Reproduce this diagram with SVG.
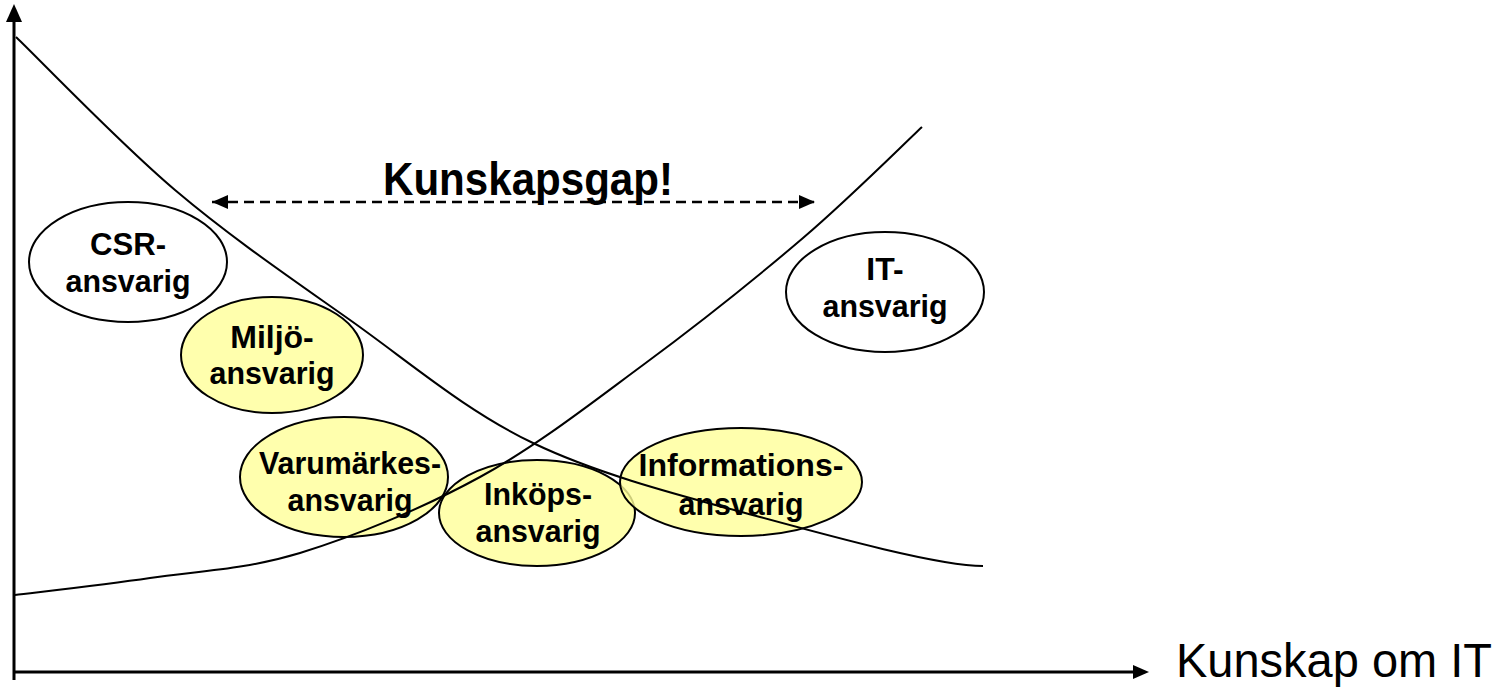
<svg xmlns="http://www.w3.org/2000/svg" width="1508" height="690" viewBox="0 0 1508 690">
<defs>
<style>
.lbl{font-family:"Liberation Sans",Arial,sans-serif;font-weight:bold;font-size:32px;text-anchor:middle;fill:#000}
.w{fill:#fff;stroke:#000;stroke-width:2}
.y{fill:#FFFF99;fill-opacity:0.8;stroke:#000;stroke-width:2}
.curve{fill:none;stroke:#000;stroke-width:2}
</style>
<marker id="ah" viewBox="0 0 16 14" refX="16" refY="7" markerWidth="16" markerHeight="14" markerUnits="userSpaceOnUse" orient="auto-start-reverse">
<path d="M0,0 L16,7 L0,14 Z" fill="#000"/>
</marker>
</defs>
<rect width="1508" height="690" fill="#fff"/>
<g id="axes">
<line x1="14" y1="680" x2="14" y2="20" stroke="#000" stroke-width="3"/>
<path d="M14,4 L22,22 L6,22 Z" fill="#000"/>
<line x1="13" y1="672" x2="1134" y2="672" stroke="#000" stroke-width="3"/>
<path d="M1149,672 L1133,665 L1133,679 Z" fill="#000"/>
<text x="1176" y="677" font-family="'Liberation Sans',Arial,sans-serif" font-size="48" textLength="316" lengthAdjust="spacingAndGlyphs">Kunskap om IT</text>
</g>
<g id="node-csr"><ellipse class="w" cx="128" cy="262" rx="99" ry="60"/><text class="lbl" x="128" y="255" textLength="76" lengthAdjust="spacingAndGlyphs">CSR-</text><text class="lbl" x="128" y="292" textLength="125" lengthAdjust="spacingAndGlyphs">ansvarig</text></g>
<g id="node-it"><ellipse class="w" cx="885" cy="292" rx="99" ry="60"/><text class="lbl" x="885" y="280">IT-</text><text class="lbl" x="885" y="317" textLength="125" lengthAdjust="spacingAndGlyphs">ansvarig</text></g>
<g id="node-miljo"><ellipse class="y" cx="272" cy="355" rx="91" ry="58"/><text class="lbl" x="272" y="348">Miljö-</text><text class="lbl" x="272" y="384" textLength="125" lengthAdjust="spacingAndGlyphs">ansvarig</text></g>
<g id="node-varumarkes"><ellipse class="y" cx="344" cy="477" rx="104" ry="60"/><text class="lbl" x="350" y="474" textLength="182" lengthAdjust="spacingAndGlyphs">Varumärkes-</text><text class="lbl" x="350" y="511" textLength="125" lengthAdjust="spacingAndGlyphs">ansvarig</text></g>
<g id="node-inkops"><ellipse class="y" cx="537" cy="513" rx="98" ry="53"/><text class="lbl" x="538" y="505" textLength="108" lengthAdjust="spacingAndGlyphs">Inköps-</text><text class="lbl" x="538" y="542" textLength="125" lengthAdjust="spacingAndGlyphs">ansvarig</text></g>
<g id="node-informations"><ellipse class="y" cx="741" cy="482" rx="121" ry="54"/><text class="lbl" x="741" y="476" textLength="205" lengthAdjust="spacingAndGlyphs">Informations-</text><text class="lbl" x="741" y="515" textLength="125" lengthAdjust="spacingAndGlyphs">ansvarig</text></g>
<g id="connectors">
<path class="curve" d="M16,37 C42.5,62.5 119.3,142.8 175,190 C230.7,237.2 290.3,277.8 350,320 C409.7,362.2 464.7,410.2 533,443 C601.3,475.8 684.7,496.5 760,517 C835.3,537.5 940,566 983,566"/>
<path class="curve" d="M15,595 C37.5,592.2 102.5,585 150,578 C197.5,571 245,569.8 300,553 C355,536.2 422.8,508.3 480,477 C537.2,445.7 589.2,404.8 643,365 C696.8,325.2 756.5,277.7 803,238 C849.5,198.3 902.2,145.5 922,127"/>
<line x1="212" y1="202" x2="815" y2="202" stroke="#000" stroke-width="2.5" stroke-dasharray="10 6" marker-start="url(#ah)" marker-end="url(#ah)"/>
<text x="528" y="195" font-family="'Liberation Sans',Arial,sans-serif" font-weight="bold" font-size="46" text-anchor="middle" textLength="290" lengthAdjust="spacingAndGlyphs">Kunskapsgap!</text>
</g>
</svg>
